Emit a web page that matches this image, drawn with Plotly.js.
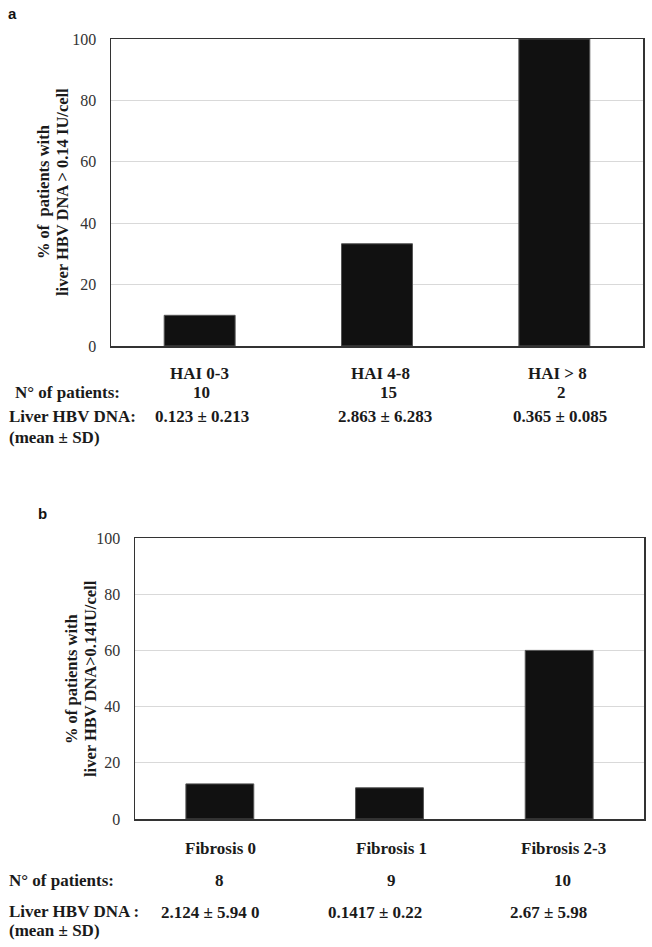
<!DOCTYPE html>
<html>
<head>
<meta charset="utf-8">
<script src="https://cdn.plot.ly/plotly-3.0.1.min.js"></script>
<style>html,body{margin:0;padding:0;background:#fff;}#chart{width:652px;height:947px;}</style>
</head>
<body>
<div id="chart"></div>
<script>
// ---- data ----
const catsA = ['HAI 0-3', 'HAI 4-8', 'HAI > 8'];
const pctA = [10, 33.3, 100];
const nPatientsA = ['10', '15', '2'];
const dnaA = ['0.123 ± 0.213', '2.863 ± 6.283', '0.365 ± 0.085'];

const catsB = ['Fibrosis 0', 'Fibrosis 1', 'Fibrosis 2-3'];
const pctB = [12.5, 11.1, 60];
const nPatientsB = ['8', '9', '10'];
const dnaB = ['2.124 ± 5.94 0', '0.1417 ± 0.22', '2.67 ± 5.98'];

const yTicks = [0, 20, 40, 60, 80, 100];

// ---- layout helpers ----
const W = 652, H = 947;
const px = v => v / W;
const py = v => 1 - v / H;
const serif = 'Liberation Serif, Times New Roman, serif';
const sans = 'Liberation Sans, Arial, sans-serif';
const txtColor = '#1a1a1a';

const barStyle = {color: '#111111', line: {color: '#555555', width: 1}};

const traces = [
  {type: 'bar', x: catsA, y: pctA, xaxis: 'x', yaxis: 'y', width: 0.4, marker: barStyle, hoverinfo: 'x+y'},
  {type: 'bar', x: catsB, y: pctB, xaxis: 'x2', yaxis: 'y2', width: 0.4, marker: barStyle, hoverinfo: 'x+y'}
];

function yAxis(domain) {
  return {
    domain: domain, range: [0, 100], tickvals: yTicks, ticktext: yTicks.map(String),
    showgrid: true, gridcolor: '#d9d9d9', gridwidth: 1, zeroline: false,
    showline: true, mirror: true, linecolor: '#333333', linewidth: 1.5,
    ticks: 'outside', ticklen: 10, tickcolor: 'rgba(0,0,0,0)',
    tickfont: {family: serif, size: 16, color: '#333333'}, fixedrange: true
  };
}
function xAxis(domain, anchor) {
  return {
    domain: domain, anchor: anchor, type: 'category', showticklabels: false, ticks: '',
    showgrid: false, zeroline: false, showline: true, mirror: true,
    linecolor: '#333333', linewidth: 1.5, fixedrange: true
  };
}

const ann = [];
function t(text, x, y, opts) {
  ann.push(Object.assign({
    text: text, x: x, y: y, xref: 'paper', yref: 'paper', showarrow: false,
    xanchor: 'center', yanchor: 'middle',
    font: {family: serif, size: 17, color: txtColor}
  }, opts || {}));
}
const bold = s => '<b>' + s + '</b>';

// panel letters
t(bold('a'), px(12), py(13), {font: {family: sans, size: 15, color: '#111'}});
t(bold('b'), px(43), py(513), {font: {family: sans, size: 15, color: '#111'}});

// y titles
t(bold('% of  patients with'), px(43), py(192), {textangle: -90, font: {family: serif, size: 16.5, color: txtColor}});
t(bold('liver HBV DNA > 0.14 IU/cell'), px(62), py(192), {textangle: -90, font: {family: serif, size: 16.5, color: txtColor}});
t(bold('% of patients with'), px(71), py(679), {textangle: -90, font: {family: serif, size: 16.5, color: txtColor}});
t(bold('liver HBV DNA>0.14IU/cell'), px(90), py(679), {textangle: -90, font: {family: serif, size: 16.5, color: txtColor}});

// panel a rows
const shiftA = {cat: [0, 3, 3], n: [2, 11, 7], dna: [2, 8, 6]};
catsA.forEach((c, i) => {
  t(bold(c), c, py(373), {xref: 'x', xshift: shiftA.cat[i]});
  t(bold(nPatientsA[i]), c, py(392), {xref: 'x', xshift: shiftA.n[i]});
  t(bold(dnaA[i]), c, py(417), {xref: 'x', xshift: shiftA.dna[i]});
});
t(bold('N° of patients:'), px(13), py(393), {xanchor: 'left'});
t(bold('Liver HBV DNA:'), px(7), py(417), {xanchor: 'left'});
t(bold('(mean ± SD)'), px(7), py(437), {xanchor: 'left'});

// panel b rows
const shiftB = {cat: [1, 2, 4], n: [0, 2, 3], dna: [-9, -15, -11]};
catsB.forEach((c, i) => {
  t(bold(c), c, py(848), {xref: 'x2', xshift: shiftB.cat[i]});
  t(bold(nPatientsB[i]), c, py(880), {xref: 'x2', xshift: shiftB.n[i]});
  t(bold(dnaB[i]), c, py(912), {xref: 'x2', xshift: shiftB.dna[i]});
});
t(bold('N° of patients:'), px(7), py(880), {xanchor: 'left'});
t(bold('Liver HBV DNA :'), px(7), py(911), {xanchor: 'left'});
t(bold('(mean ± SD)'), px(7), py(930), {xanchor: 'left'});

const layout = {
  width: W, height: H, margin: {l: 0, r: 0, t: 0, b: 0},
  paper_bgcolor: '#ffffff', plot_bgcolor: '#ffffff', showlegend: false,
  xaxis: xAxis([px(111), px(643)], 'y'),
  yaxis: Object.assign(yAxis([py(346), py(39)]), {anchor: 'x'}),
  xaxis2: xAxis([px(135), px(644)], 'y2'),
  yaxis2: Object.assign(yAxis([py(819), py(538)]), {anchor: 'x2'}),
  annotations: ann
};

Plotly.newPlot('chart', traces, layout, {displayModeBar: false, staticPlot: true});
</script>
</body>
</html>
